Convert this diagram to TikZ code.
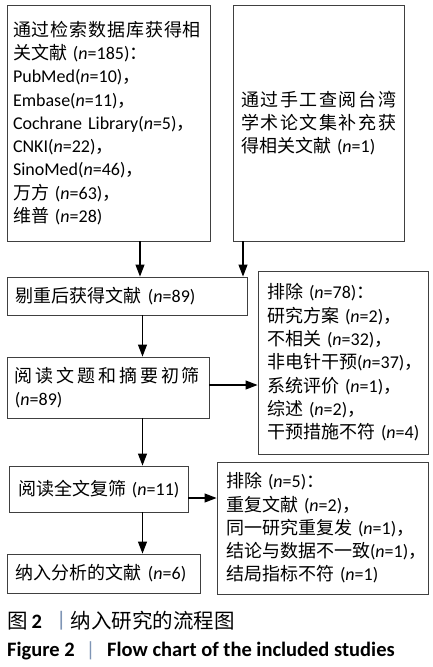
\documentclass[tikz,border=0pt]{standalone}
\usepackage{fontspec}
\setmainfont{Carlito}
\newfontfamily\cjk{Noto Sans CJK SC}
\usetikzlibrary{arrows.meta}
\newcommand\zh[1]{{\cjk #1}}
\newcommand\jl[2]{\makebox[#1][s]{\cjk\jlA#2\relax}}
\def\jlA#1{#1\jlB}
\def\jlB#1{\ifx\relax#1\else\hfil#1\expandafter\jlB\fi}
\newcommand\nn[1]{(\textit{n}=#1)}
\definecolor{boxc}{HTML}{404040}
\definecolor{barc}{HTML}{7F95B5}
\begin{document}
\begin{tikzpicture}[x=1pt,y=-1pt,
  fbox/.style={draw=boxc, line width=0.9pt, rectangle, inner sep=0pt, align=left,
    font=\fontsize{18}{23.3}\selectfont},
  arr/.style={line width=1.1pt, -{Triangle[length=12pt,width=9pt]}}]
\useasboundingbox[fill=white] (0,0) rectangle (432,667);
\node[fbox, minimum width=203pt, minimum height=236pt, text width=191pt] (b1) at (108.5,123) {%
\jl{188pt}{通过检索数据库获得相}\\
\zh{关文献}~\nn{185}\zh{：}\\
PubMed\nn{10}\zh{，}\\
Embase\nn{11}\zh{，}\\
Cochrane~Library\nn{5}\zh{，}\\
CNKI\nn{22}\zh{，}\\
SinoMed\nn{46}\zh{，}\\
\zh{万方}~\nn{63}\zh{，}\\
\zh{维普}~\nn{28}};
\node[fbox, minimum width=171pt, minimum height=236pt, text width=155pt] (b2) at (318.5,123) {%
\jl{155pt}{通过手工查阅台湾}\\
\jl{155pt}{学术论文集补充获}\\
\zh{得相关文献}~\nn{1}};
\node[fbox, minimum width=240pt, minimum height=38pt, text width=222pt] (b3) at (127,296) {%
\zh{剔重后获得文献}~\nn{89}};
\node[fbox, minimum width=202pt, minimum height=61pt, text width=186pt] (b4) at (108,387.5) {%
\jl{185pt}{阅读文题和摘要初筛}\\
\nn{89}};
\node[fbox, minimum width=170pt, minimum height=183pt, text width=152pt] (b5) at (343,362.5) {%
\zh{排除}~\nn{78}\zh{：}\\
\zh{研究方案}~\nn{2}\zh{，}\\
\zh{不相关}~\nn{32}\zh{，}\\
\zh{非电针干预}\nn{37}\zh{，}\\
\zh{系统评价}~\nn{1}\zh{，}\\
\zh{综述}~\nn{2}\zh{，}\\
\zh{干预措施不符}~\nn{4}};
\node[fbox, minimum width=179pt, minimum height=46pt, text width=161pt] (b6) at (98.5,489) {%
\zh{阅读全文复筛}~\nn{11}};
\node[fbox, minimum width=211pt, minimum height=132pt, text width=193pt] (b7) at (322.5,528) {%
\zh{排除}~\nn{5}\zh{：}\\
\zh{重复文献}~\nn{2}\zh{，}\\
\zh{同一研究重复发}~\nn{1}\zh{，}\\
\zh{结论与数据不一致}\nn{1}\zh{，}\\
\zh{结局指标不符}~\nn{1}};
\node[fbox, minimum width=193pt, minimum height=39pt, text width=175pt] (b8) at (103.5,573.5) {%
\zh{纳入分析的文献}~\nn{6}};
\coordinate (c1) at (140,0);
\coordinate (c2) at (243,0);
\coordinate (c3) at (142.5,0);
\coordinate (r1) at (0,385);
\coordinate (r2) at (0,498);
\draw[arr] (c1 |- b1.south) -- (c1 |- b3.north);
\draw[arr] (c2 |- b2.south) -- (c2 |- b3.north);
\draw[arr] (c3 |- b3.south) -- (c3 |- b4.north);
\draw[arr] (b4.east |- r1) -- (b5.west |- r1);
\draw[arr] (c3 |- b4.south) -- (c3 |- b6.north);
\draw[arr] (b6.east |- r2) -- (b7.west |- r2);
\draw[arr] (c3 |- b6.south) -- (c3 |- b8.north);
\node[anchor=west, inner sep=0pt, font=\fontsize{20.5}{24}\selectfont] (cap1) at (7,621) {%
\zh{图}\hspace{4pt}\textbf{2}\hspace{9pt}{\color{barc}\zh{丨}}\hspace{-1pt}\zh{纳入研究的流程图}};
\node[anchor=west, inner sep=0pt, font=\fontsize{20.5}{24}\selectfont\bfseries] (cap2) at (7,651) {%
Figure 2\hspace{11pt}{\color{barc}\mdseries|}\hspace{12pt}Flow chart of the included studies};
\end{tikzpicture}
\end{document}
